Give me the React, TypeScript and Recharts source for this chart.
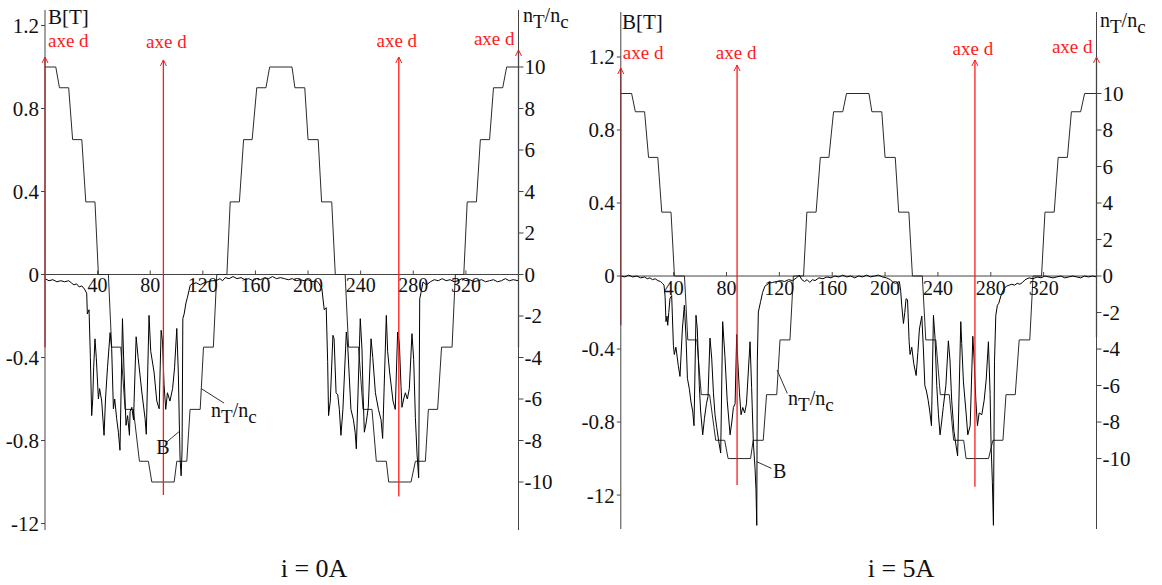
import React from "react";
import { LineChart, Line, XAxis, YAxis, ReferenceLine, ReferenceDot } from "recharts";

// n_T/n_c staircase (corner points), same switching pattern in both panels
const stepTheta = [0, 8.2, 11, 18, 21, 28, 31, 38, 40.6, 48.2, 50.7, 57.6, 60.9, 67.2, 71.8, 78.6, 81.2, 98.2, 100.2, 107.8, 110.3, 118, 120.5, 128, 130.6, 138.3, 140.8, 147.8, 151, 157.5, 161, 168, 170.8, 187.8, 190, 197.5, 200, 207.7, 210.3, 218, 220.7, 228.2, 230.8, 238.4, 241.8, 248.6, 251.9, 259.5, 261.3, 278.3, 281.6, 289.2, 291.5, 298.5, 301.5, 309.5, 312, 318.4, 321, 328, 331, 338, 341, 348, 351, 360];
const stepValue = [10, 10, 9, 9, 6.5, 6.5, 3.5, 3.5, 0, 0, -3.5, -3.5, -6.5, -6.5, -9, -9, -10, -10, -9, -9, -6.5, -6.5, -3.5, -3.5, 0, 0, 3.5, 3.5, 6.5, 6.5, 9, 9, 10, 10, 9, 9, 6.5, 6.5, 3.5, 3.5, 0, 0, -3.5, -3.5, -6.5, -6.5, -9, -9, -10, -10, -9, -9, -6.5, -6.5, -3.5, -3.5, 0, 0, 3.5, 3.5, 6.5, 6.5, 9, 9, 10, 10];

// B at i = 0A
const leftBTheta = [0, 3, 6, 9, 12, 15, 18, 20, 22, 24, 26, 28, 30,
  31.7, 32.2, 33.5, 34.5, 35.5, 36.3, 37, 38, 39, 40.6, 41.5, 43.1, 44.9, 46, 47.5, 49.5, 50.7, 52, 53, 54.5, 55.8, 57, 58.9, 60.1, 61.6, 62.8, 64.2, 64.7, 66, 67.3, 69.3, 70.8, 73.6, 76.1, 77, 79.1, 80.4, 82.9, 85, 86.8, 88.3, 89.3, 90.5, 91.8, 93.1, 95, 97, 98.5, 100.2, 101.4, 102.2, 102.7, 103.5, 104.2, 104.8, 105.8, 107.3, 108.3, 110.4,
  112, 115, 118, 121, 124, 127, 130, 133, 135, 137, 140, 143, 146, 149, 152, 155, 158, 161, 164, 167, 170, 173, 176, 179, 182, 185, 188, 191, 194, 197, 200, 203, 206, 208,
  210.5, 212.3, 213.8, 214.9, 215.6, 216.9, 218.9, 219.8, 221.3, 222.6, 223.8, 225, 226.5, 229.1, 230.2, 232.6, 234.5, 235.8, 236.7, 239.7, 241, 241.8, 242.8, 244.3, 245.8, 247.9, 249.2, 251.2, 253.5, 255.5, 256.7, 259.5, 260.5, 262, 264.6, 266.3, 268.1, 269.4, 270.7, 271.4, 272.7, 274, 275.5, 277, 279, 280.3, 281.6, 282.9, 284.1, 284.9, 285.8, 287.4,
  290, 293, 296, 299, 302, 305, 308, 311, 314, 317, 320, 323, 326, 329, 332, 335, 338, 341, 344, 347, 350, 353, 356, 360];
const leftBValue = [-0.02, -0.03, -0.025, -0.035, -0.03, -0.035, -0.03, -0.04, -0.05, -0.045, -0.06, -0.055, -0.07,
  -0.09, -0.19, -0.17, -0.4, -0.68, -0.6, -0.45, -0.31, -0.4, -0.6, -0.55, -0.61, -0.775, -0.6, -0.45, -0.28, -0.357, -0.647, -0.6, -0.695, -0.76, -0.847, -0.213, -0.47, -0.727, -0.68, -0.775, -0.66, -0.64, -0.7, -0.3, -0.4, -0.566, -0.695, -0.77, -0.197, -0.37, -0.47, -0.61, -0.647, -0.269, -0.32, -0.53, -0.65, -0.57, -0.61, -0.55, -0.45, -0.26, -0.48, -0.74, -0.89, -0.97, -0.85, -0.213, -0.19, -0.133, -0.11, -0.052,
  -0.045, -0.04, -0.05, -0.04, -0.035, -0.03, -0.03, -0.02, -0.03, -0.015, -0.02, -0.01, -0.02, -0.015, -0.025, -0.02, -0.03, -0.02, -0.025, -0.015, -0.02, -0.01, -0.02, -0.015, -0.02, -0.025, -0.02, -0.03, -0.025, -0.03, -0.025, -0.035, -0.03, -0.04,
  -0.068, -0.17, -0.16, -0.42, -0.68, -0.61, -0.293, -0.31, -0.57, -0.58, -0.65, -0.775, -0.65, -0.277, -0.35, -0.65, -0.7, -0.76, -0.84, -0.213, -0.36, -0.57, -0.76, -0.71, -0.64, -0.31, -0.4, -0.57, -0.65, -0.7, -0.79, -0.197, -0.37, -0.47, -0.61, -0.65, -0.277, -0.33, -0.54, -0.64, -0.6, -0.57, -0.6, -0.55, -0.285, -0.41, -0.69, -0.87, -0.98, -0.117, -0.09, -0.036,
  -0.05, -0.035, -0.025, -0.03, -0.02, -0.03, -0.025, -0.035, -0.03, -0.02, -0.03, -0.025, -0.035, -0.03, -0.025, -0.035, -0.03, -0.025, -0.035, -0.03, -0.02, -0.03, -0.025, -0.03];

// B at i = 5A
const rightBTheta = [0, 3, 6, 9, 12, 15, 18, 20, 22, 24, 26, 28, 30, 31.5,
  32.7, 33.5, 34.2, 35, 35.5, 36.3, 37.2, 38.5, 39.8, 40.5, 41.7, 43.5, 44.8, 46.6, 48.1, 49.4, 50.4, 51.9, 53.1, 54.4, 55.4, 56.9, 57.9, 59.4, 60.4, 62, 63.3, 64.8, 66, 67.5, 68.8, 70.1, 71.3, 72.6, 74, 75.6, 77.1, 78.8, 80.5, 82.7, 84, 85.2, 86.5, 87.7, 88.5, 89.8, 91, 92.3, 93.7, 95.1, 97.8, 99, 100.3, 101.6, 102.3, 102.9, 103.3, 104.1, 105.8, 107.3, 109,
  112, 115, 118, 121, 124, 127, 130, 133, 135, 137, 139, 141, 143, 145, 147, 150, 153, 156, 159, 162, 165, 168, 171, 174, 177, 180, 183, 186, 189, 192, 195, 198, 201, 204, 206, 208,
  210.8, 211.8, 212.6, 213.9, 214.9, 215.9, 217, 218.2, 218.9, 220.2, 221.7, 223.5, 224.8, 226, 227.8, 229, 230.1, 231.3, 232.6, 233.8, 235.1, 236.6, 237.8, 239.1, 240.4, 241.6, 242.8, 244, 246, 247.9, 249.1, 250.4, 252.1, 253.7, 254.9, 257.3, 258, 259.3, 261.3, 262.6, 264.4, 266.4, 267.4, 268.7, 269.9, 271.2, 273.2, 275, 276.5, 278.2, 279.5, 280.2, 281.2, 282, 282.8, 283.8, 285, 286,
  288, 290, 292, 294, 296, 298, 300, 302, 304, 306, 309, 312, 315, 318, 321, 324, 327, 330, 333, 336, 339, 342, 345, 348, 351, 354, 357, 360];
const rightBValue = [0, -0.005, 0.005, -0.005, 0, -0.01, -0.005, -0.015, -0.01, -0.02, -0.015, -0.025, -0.03, -0.04,
  -0.05, -0.11, -0.25, -0.22, -0.27, -0.2, -0.124, -0.107, -0.38, -0.43, -0.39, -0.49, -0.55, -0.29, -0.16, -0.34, -0.56, -0.62, -0.69, -0.74, -0.82, -0.215, -0.29, -0.6, -0.74, -0.87, -0.78, -0.7, -0.66, -0.34, -0.45, -0.64, -0.76, -0.83, -0.9, -0.97, -0.25, -0.44, -0.68, -0.87, -0.8, -0.72, -0.7, -0.32, -0.46, -0.64, -0.76, -0.72, -0.75, -0.7, -0.36, -0.61, -0.91, -1.056, -1.17, -1.366, -0.47, -0.197, -0.14, -0.09, -0.056,
  -0.04, -0.035, -0.03, -0.025, -0.03, -0.02, -0.025, -0.01, 0.005, -0.02, -0.03, -0.02, -0.035, -0.02, -0.025, -0.01, -0.015, -0.005, -0.01, 0, -0.005, 0.005, -0.005, 0, -0.01, 0, -0.005, 0.005, -0.005, 0, 0.005, -0.005, -0.01, -0.02, -0.035, -0.04,
  -0.03, -0.08, -0.16, -0.26, -0.2, -0.124, -0.13, -0.36, -0.43, -0.39, -0.48, -0.545, -0.42, -0.29, -0.22, -0.4, -0.6, -0.63, -0.68, -0.74, -0.82, -0.215, -0.34, -0.6, -0.76, -0.87, -0.8, -0.72, -0.6, -0.355, -0.46, -0.68, -0.85, -0.93, -0.985, -0.25, -0.37, -0.58, -0.75, -0.87, -0.82, -0.33, -0.46, -0.68, -0.82, -0.75, -0.76, -0.68, -0.57, -0.36, -0.65, -0.92, -1.13, -1.366, -0.47, -0.215, -0.16, -0.15,
  -0.1, -0.07, -0.055, -0.05, -0.045, -0.05, -0.04, -0.045, -0.035, -0.02, -0.01, -0.015, -0.005, -0.01, 0, -0.005, -0.01, -0.005, 0, -0.01, -0.005, 0, -0.005, -0.01, 0, -0.005, 0, -0.005];

const angleTicks = [40, 80, 120, 160, 200, 240, 280, 320];
const bTicks = [-1.2, -0.8, -0.4, 0, 0.4, 0.8, 1.2];
const bTickLabels = ["-12", "-0.8", "-0.4", "0", "0.4", "0.8", "1.2"];
const nTicks = [-10, -8, -6, -4, -2, 0, 2, 4, 6, 8, 10];

const FONT = "Liberation Serif, Times New Roman, serif";
const RED = "#ff1a1a";
const AXIS = "#444";
const INK = "#111";

type Pt = { x: number; y: number };
const zip = (xs: number[], ys: number[]): Pt[] => xs.map((x, i) => ({ x, y: ys[i] }));

type AxeMark = { theta: number; top: number; bottom: number; dx: number; dy: number; anchor: "start" | "middle" | "end" };
type Note = { from: [number, number]; to: [number, number]; at: [number, number]; text: "n" | "B" };

type PanelProps = {
  left: number;
  width: number;
  height: number;
  margin: { top: number; bottom: number; left: number; right: number };
  bDomain: [number, number];
  steps: Pt[];
  field: Pt[];
  axes: AxeMark[];
  notes: Note[];
  tickDy: number;
};

const bLabel = (v: number) => {
  const i = bTicks.findIndex((t) => Math.abs(t - v) < 1e-6);
  return i >= 0 ? bTickLabels[i] : String(v);
};

function axeShape(m: AxeMark) {
  return (p: any) => (
    <g>
      <path d={`M${p.cx - 3},${p.cy + 6} L${p.cx},${p.cy} L${p.cx + 3},${p.cy + 6}`} stroke={RED} fill="none" strokeWidth={1} />
      <text x={p.cx + m.dx} y={p.cy + m.dy} textAnchor={m.anchor} fill={RED} fontSize={19} fontFamily={FONT}>
        axe d
      </text>
    </g>
  );
}

function tickShape(label: string, dy: number) {
  return (p: any) => (
    <g>
      <line x1={p.cx} y1={p.cy} x2={p.cx} y2={p.cy - 4} stroke={AXIS} strokeWidth={1} />
      <text x={p.cx} y={p.cy + dy} textAnchor="middle" fill={INK} fontSize={20} fontFamily={FONT}>
        {label}
      </text>
    </g>
  );
}

function noteShape(text: "n" | "B") {
  return (p: any) =>
    text === "B" ? (
      <text x={p.cx} y={p.cy} fill={INK} fontSize={20} fontFamily={FONT}>B</text>
    ) : (
      <text x={p.cx} y={p.cy} fill={INK} fontSize={20} fontFamily={FONT}>
        <tspan>n</tspan>
        <tspan dy={6} fontSize={19}>T</tspan>
        <tspan dy={-6}>/n</tspan>
        <tspan dy={6} fontSize={19}>c</tspan>
      </text>
    );
}

function Panel(props: PanelProps) {
  const { bDomain } = props;
  const nDomain: [number, number] = [bDomain[0] * 10, bDomain[1] * 10];
  return (
    <div style={{ position: "absolute", left: props.left, top: 0 }}>
      <LineChart width={props.width} height={props.height} margin={props.margin}>
        <XAxis type="number" dataKey="x" domain={[0, 360]} hide allowDataOverflow />
        <YAxis
          yAxisId="b"
          orientation="left"
          type="number"
          domain={bDomain}
          ticks={bTicks}
          interval={0}
          allowDataOverflow
          width={40}
          tickSize={4}
          tickMargin={2}
          tickFormatter={bLabel}
          axisLine={{ stroke: AXIS }}
          tickLine={{ stroke: AXIS }}
          tick={{ fill: INK, fontSize: 21, fontFamily: FONT }}
        />
        <YAxis
          yAxisId="n"
          orientation="right"
          type="number"
          domain={nDomain}
          ticks={nTicks}
          interval={0}
          allowDataOverflow
          width={45}
          tickSize={5}
          tickMargin={1}
          axisLine={{ stroke: AXIS }}
          tickLine={{ stroke: AXIS }}
          tick={{ fill: INK, fontSize: 21, fontFamily: FONT }}
        />
        <ReferenceLine yAxisId="b" y={0} stroke={AXIS} strokeWidth={1} />
        {angleTicks.map((t) => (
          <ReferenceDot key={t} yAxisId="b" x={t} y={0} r={0} shape={tickShape(String(t), props.tickDy)} />
        ))}
        <Line
          yAxisId="n"
          data={props.steps}
          dataKey="y"
          type="linear"
          stroke="#2a2a2a"
          strokeWidth={1}
          dot={false}
          isAnimationActive={false}
        />
        <Line
          yAxisId="b"
          data={props.field}
          dataKey="y"
          type="linear"
          stroke="#000"
          strokeWidth={1}
          dot={false}
          isAnimationActive={false}
        />
        {props.axes.map((m) => (
          <ReferenceLine
            key={`l${m.theta}`}
            yAxisId="b"
            segment={[{ x: m.theta, y: m.top }, { x: m.theta, y: m.bottom }]}
            stroke={RED}
            strokeWidth={1.3}
          />
        ))}
        {props.axes.map((m) => (
          <ReferenceDot key={`a${m.theta}`} yAxisId="b" x={m.theta} y={m.top} r={0} shape={axeShape(m)} />
        ))}
        {props.notes.map((n, i) => (
          <ReferenceLine
            key={`nl${i}`}
            yAxisId="b"
            segment={[{ x: n.from[0], y: n.from[1] }, { x: n.to[0], y: n.to[1] }]}
            stroke="#333"
            strokeWidth={1}
          />
        ))}
        {props.notes.map((n, i) => (
          <ReferenceDot key={`nt${i}`} yAxisId="b" x={n.at[0]} y={n.at[1]} r={0} shape={noteShape(n.text)} />
        ))}
      </LineChart>
    </div>
  );
}

const steps = zip(stepTheta, stepValue);
const leftField = zip(leftBTheta, leftBValue);
const rightField = zip(rightBTheta, rightBValue);

export default function App() {
  return (
    <div style={{ position: "absolute", left: 0, top: 0, width: 1162, height: 585, background: "#fff", overflow: "hidden" }}>
      <Panel
        left={0}
        width={580}
        height={545}
        margin={{ top: 10, bottom: 15, left: 5, right: 16.5 }}
        bDomain={[-1.2313, 1.2747]}
        steps={steps}
        field={leftField}
        tickDy={17.5}
        axes={[
          { theta: 0, top: 1.048, bottom: -0.35, dx: 3, dy: -10, anchor: "start" },
          { theta: 90, top: 1.034, bottom: -1.063, dx: 3, dy: -12, anchor: "middle" },
          { theta: 269, top: 1.048, bottom: -1.07, dx: -2, dy: -10, anchor: "middle" },
          { theta: 360, top: 1.082, bottom: -0.35, dx: -4, dy: -5, anchor: "end" },
        ]}
        notes={[
          { from: [118.8, -0.55], to: [136.2, -0.62], at: [126.3, -0.687], text: "n" },
          { from: [92.6, -0.807], to: [102.2, -0.756], at: [84.5, -0.865], text: "B" },
        ]}
      />
      <Panel
        left={575}
        width={580}
        height={545}
        margin={{ top: 12, bottom: 16, left: 5.8, right: 13.5 }}
        bDomain={[-1.386, 1.4466]}
        steps={steps}
        field={rightField}
        tickDy={19}
        axes={[
          { theta: 0, top: 1.14, bottom: -0.27, dx: 2, dy: -9, anchor: "start" },
          { theta: 88, top: 1.156, bottom: -1.145, dx: -1, dy: -6, anchor: "middle" },
          { theta: 268, top: 1.184, bottom: -1.155, dx: -2, dy: -5, anchor: "middle" },
          { theta: 360, top: 1.2, bottom: -0.334, dx: -4, dy: -4, anchor: "end" },
        ]}
        notes={[
          { from: [118.3, -0.515], to: [126, -0.643], at: [126.6, -0.707], text: "n" },
          { from: [102.8, -1.017], to: [114, -1.054], at: [115.2, -1.107], text: "B" },
        ]}
      />
      <svg width={1162} height={585} style={{ position: "absolute", left: 0, top: 0, pointerEvents: "none" }}>
        <g fontFamily={FONT} fill={INK}>
          <text x={48} y={24} fontSize={21}>B[T]</text>
          <text x={523} y={22} fontSize={20}>
            <tspan>n</tspan>
            <tspan dy={6} fontSize={19}>T</tspan>
            <tspan dy={-6}>/n</tspan>
            <tspan dy={6} fontSize={19}>c</tspan>
          </text>
          <text x={622} y={29} fontSize={21}>B[T]</text>
          <text x={1100} y={27} fontSize={20}>
            <tspan>n</tspan>
            <tspan dy={6} fontSize={19}>T</tspan>
            <tspan dy={-6}>/n</tspan>
            <tspan dy={6} fontSize={19}>c</tspan>
          </text>
          <text x={314} y={577} fontSize={26} textAnchor="middle">i = 0A</text>
          <text x={901} y={577} fontSize={26} textAnchor="middle">i = 5A</text>
        </g>
      </svg>
    </div>
  );
}
